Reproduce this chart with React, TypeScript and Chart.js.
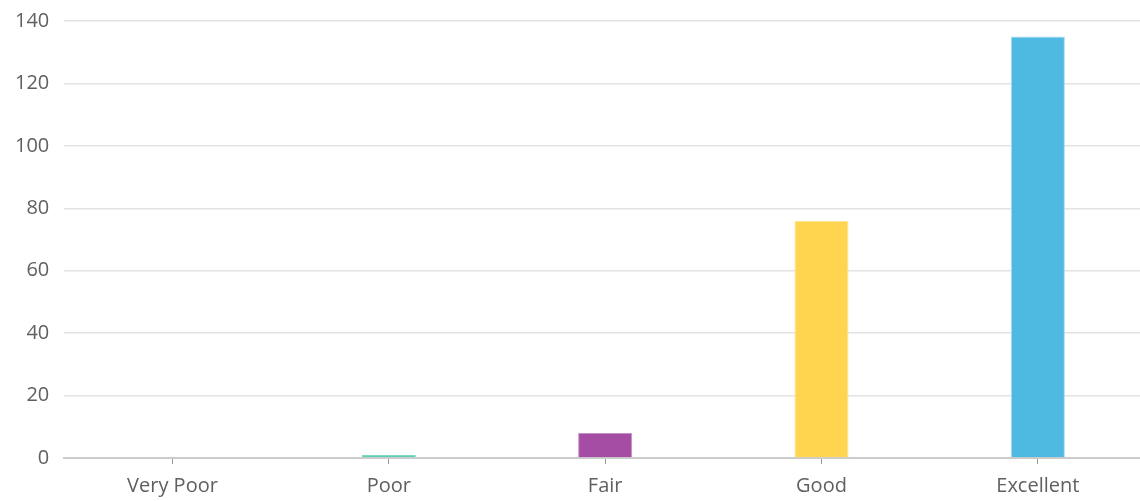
import React, { useEffect, useRef } from "react";
import { Chart, registerables } from "chart.js";

Chart.register(...registerables);

const categories = ["Very Poor", "Poor", "Fair", "Good", "Excellent"];
const values = [0, 1, 8, 76, 135];
const barColors = ["#8fd3c4", "#5fcfb4", "#a54ca5", "#ffd54f", "#4eb9e1"];
const borderColors = ["#c5ece3", "#7ed9c3", "#c98fc9", "#ffe48f", "#a6dcf0"];
const yTicks = [0, 20, 40, 60, 80, 100, 120, 140];

export default function App() {
  const ref = useRef<HTMLCanvasElement | null>(null);
  useEffect(() => {
    if (!ref.current) return;
    const chart = new Chart(ref.current, {
      type: "bar",
      data: {
        labels: categories,
        datasets: [
          {
            data: values,
            backgroundColor: barColors,
            borderColor: borderColors,
            borderWidth: 1,
            barPercentage: 0.25,
            categoryPercentage: 1,
          },
        ],
      },
      options: {
        animation: false,
        responsive: true,
        maintainAspectRatio: false,
        layout: { padding: { top: 0, left: 0, right: 0, bottom: 4 } },
        plugins: { legend: { display: false }, tooltip: { enabled: false } },
        scales: {
          x: {
            grid: {
              display: true,
              drawOnChartArea: false,
              offset: false,
              tickLength: 6,
              color: "#999",
            },
            border: { display: true, color: "#cccccc", width: 2 },
            ticks: {
              color: "#606060",
              font: { family: "'Open Sans', sans-serif", size: 20 },
              padding: 10,
            },
          },
          y: {
            min: 0,
            max: 140,
            afterBuildTicks: (s: any) => {
              s.ticks = yTicks.map((v) => ({ value: v }));
            },
            grid: { color: "#e3e3e3", lineWidth: 1.5, drawTicks: false },
            border: { display: false },
            ticks: {
              color: "#606060",
              font: { family: "'Open Sans', sans-serif", size: 20 },
              padding: 15,
            },
          },
        },
      },
    });
    return () => chart.destroy();
  }, []);
  return (
    <div style={{ position: "absolute", left: 0, top: 0, width: 1140, height: 501, overflow: "hidden" }}>
      <div style={{ position: "absolute", left: 0, top: -6, width: 1146, height: 518 }}>
        <canvas ref={ref} />
      </div>
    </div>
  );
}
